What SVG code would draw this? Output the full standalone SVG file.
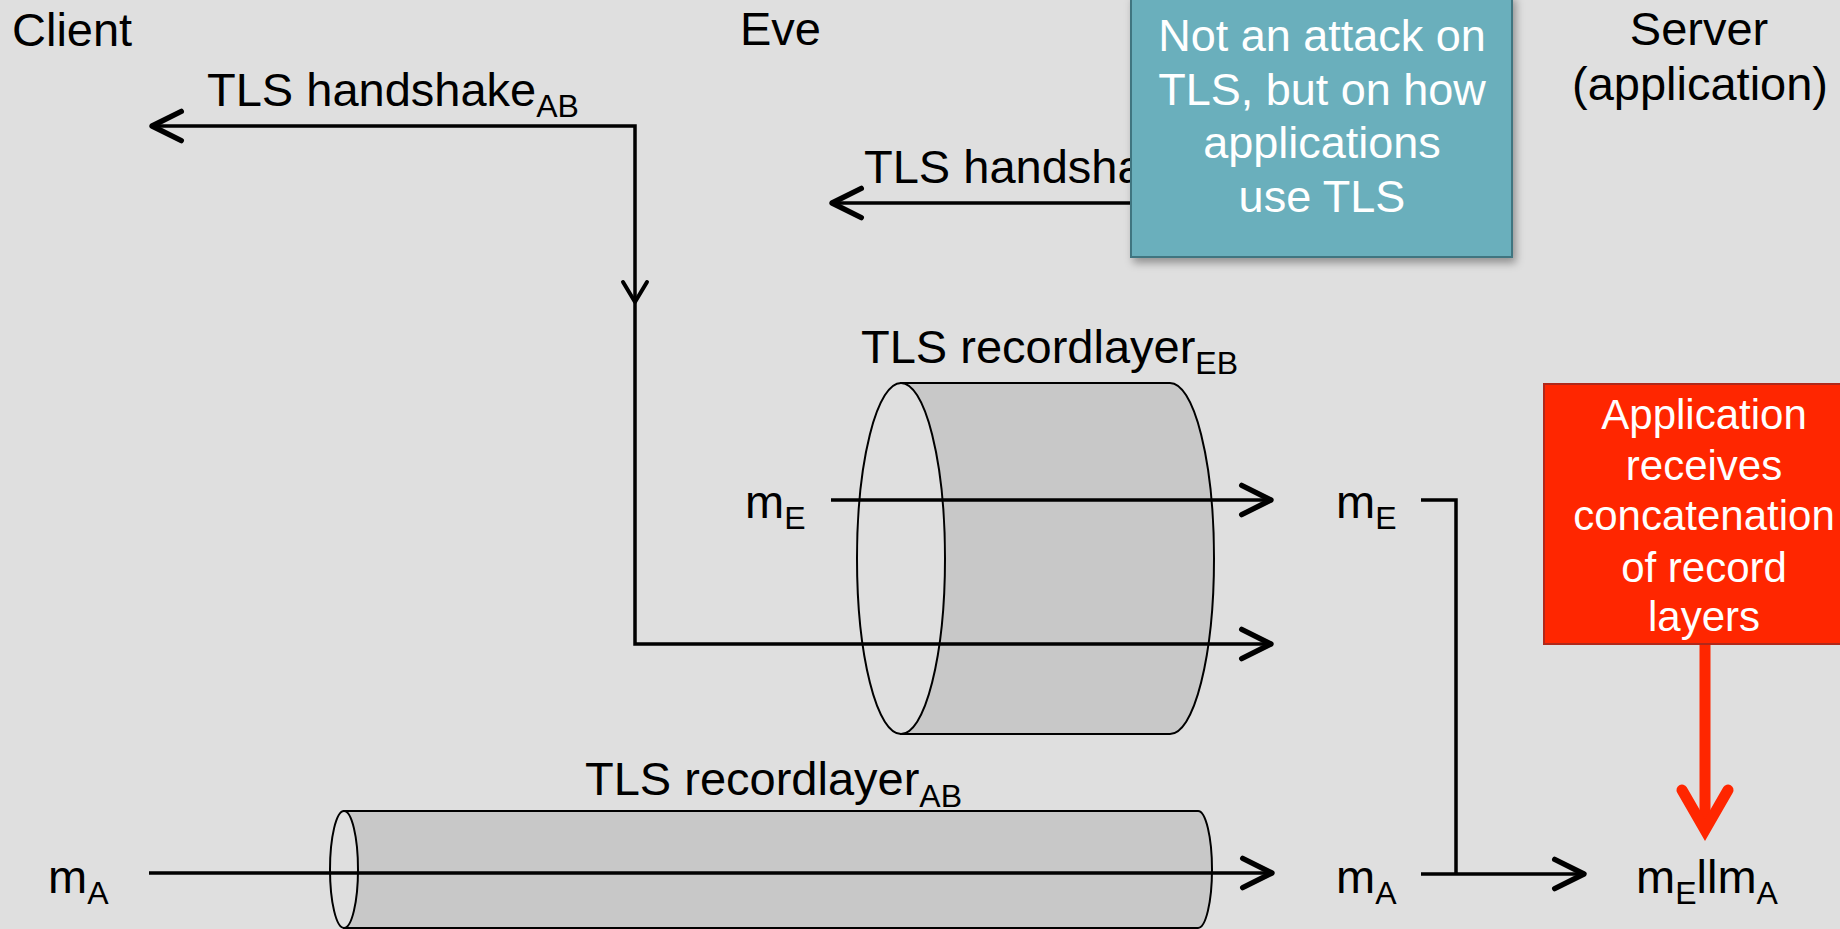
<svg xmlns="http://www.w3.org/2000/svg" width="1840" height="929" viewBox="0 0 1840 929">
  <style>
    text { font-family: "Liberation Sans", Arial, sans-serif; }
    .lbl { font-size: 47px; fill: #000; }
    .sub { font-size: 32px; }
    .note-blue { font-size: 45px; fill: #fff; text-anchor: middle; }
    .note-red { font-size: 42px; fill: #fff; text-anchor: middle; }
    .flow { fill: none; stroke: #000; stroke-width: 3.5; }
    .cyl-body { fill: #c8c8c8; stroke: #000; stroke-width: 2; }
    .cyl-front { fill: #dfdfdf; stroke: #000; stroke-width: 2; }
  </style>
  <defs>
    <marker id="arrow" markerUnits="userSpaceOnUse" markerWidth="40" markerHeight="40" refX="0" refY="0" viewBox="-26 -15 30 30" orient="auto-start-reverse" overflow="visible">
      <path d="M-22,-11 L0,0 L-22,11" fill="none" stroke="#000" stroke-width="4" stroke-linecap="round" stroke-linejoin="round"/>
    </marker>
    <filter id="shadow" x="-10%" y="-10%" width="130%" height="130%">
      <feDropShadow dx="3" dy="5" stdDeviation="4" flood-color="#000" flood-opacity="0.35"/>
    </filter>
  </defs>

  <rect x="0" y="0" width="1840" height="929" fill="#dfdfdf"/>

  <!-- party headings -->
  <g id="client"><text class="lbl" x="12" y="46">Client</text></g>
  <g id="eve"><text class="lbl" x="740" y="45">Eve</text></g>
  <g id="server">
    <text class="lbl" x="1699" y="45" text-anchor="middle">Server</text>
    <text class="lbl" x="1700" y="100" text-anchor="middle">(application)</text>
  </g>

  <!-- record layer tunnels -->
  <g id="recordlayer-eb">
    <path class="cyl-body" d="M901,383 L1170,383 A44,175.5 0 0 1 1170,734 L901,734 Z"/>
    <ellipse class="cyl-front" cx="901" cy="558.5" rx="44" ry="175.5"/>
    <text class="lbl" x="861" y="363">TLS recordlayer<tspan class="sub" dy="11">EB</tspan></text>
  </g>
  <g id="recordlayer-ab">
    <path class="cyl-body" d="M344,811 L1198,811 A14,58.5 0 0 1 1198,928 L344,928 Z"/>
    <ellipse class="cyl-front" cx="344" cy="869.5" rx="14" ry="58.5"/>
    <text class="lbl" x="585" y="795">TLS recordlayer<tspan class="sub" dy="12">AB</tspan></text>
  </g>

  <!-- handshake labels -->
  <g id="handshake-ab"><text class="lbl" x="207" y="106">TLS handshake<tspan class="sub" dy="11">AB</tspan></text></g>
  <g id="handshake-eb"><text class="lbl" x="864" y="183">TLS handshake</text></g>

  <!-- message labels -->
  <g id="me-eve"><text class="lbl" x="745" y="518">m<tspan class="sub" dy="11">E</tspan></text></g>
  <g id="me-server"><text class="lbl" x="1336" y="518">m<tspan class="sub" dy="11">E</tspan></text></g>
  <g id="ma-client"><text class="lbl" x="48" y="893">m<tspan class="sub" dy="11">A</tspan></text></g>
  <g id="ma-server"><text class="lbl" x="1336" y="893">m<tspan class="sub" dy="11">A</tspan></text></g>
  <g id="concat"><text class="lbl" x="1636" y="893">m<tspan class="sub" dy="11">E</tspan><tspan dy="-11">llm</tspan><tspan class="sub" dy="11">A</tspan></text></g>

  <!-- connectors -->
  <g id="connectors">
    <path class="flow" d="M152,126 H635 V644 H1271" marker-start="url(#arrow)" marker-end="url(#arrow)"/>
    <path d="M623,282 L635,302 L647,282" fill="none" stroke="#000" stroke-width="4" stroke-linecap="round" stroke-linejoin="round"/>
    <path class="flow" d="M1136,203 H832" marker-end="url(#arrow)"/>
    <path class="flow" d="M831,500 H1271" marker-end="url(#arrow)"/>
    <path class="flow" d="M149,873 H1272" marker-end="url(#arrow)"/>
    <path class="flow" d="M1421,500 H1456 V874"/>
    <path class="flow" d="M1421,874 H1584" marker-end="url(#arrow)"/>
    <path d="M1705,644 V826" fill="none" stroke="#ff2600" stroke-width="11"/>
    <path d="M1682,790 L1705,830 L1728,790" fill="none" stroke="#ff2600" stroke-width="11" stroke-linecap="round" stroke-linejoin="miter"/>
  </g>

  <!-- callouts -->
  <g id="note-blue">
    <rect x="1131" y="-5" width="381" height="262" fill="#6bafbc" stroke="#3f7480" stroke-width="2" filter="url(#shadow)"/>
    <text class="note-blue" x="1322" y="51">Not an attack on</text>
    <text class="note-blue" x="1322" y="105">TLS, but on how</text>
    <text class="note-blue" x="1322" y="158">applications</text>
    <text class="note-blue" x="1322" y="212">use TLS</text>
  </g>
  <g id="note-red">
    <rect x="1544" y="384" width="330" height="260" fill="#ff2600" stroke="#b0281a" stroke-width="2"/>
    <text class="note-red" x="1704" y="429">Application</text>
    <text class="note-red" x="1704" y="480">receives</text>
    <text class="note-red" x="1704" y="530">concatenation</text>
    <text class="note-red" x="1704" y="582">of record</text>
    <text class="note-red" x="1704" y="631">layers</text>
  </g>
</svg>
